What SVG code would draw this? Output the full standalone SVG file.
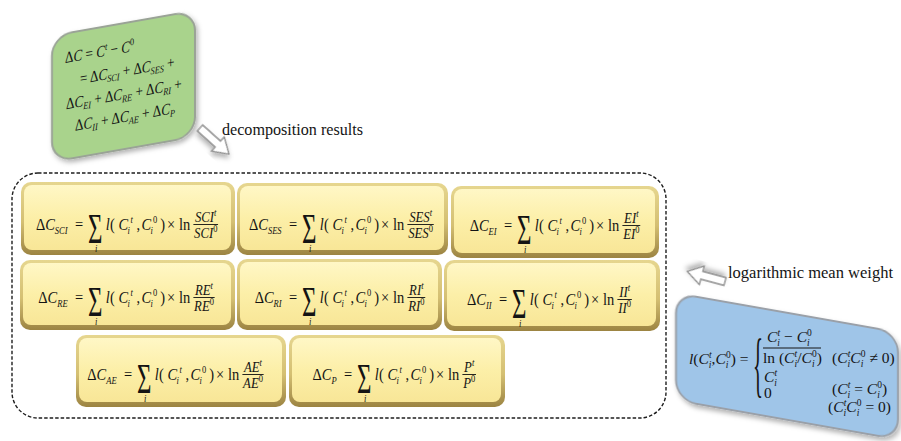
<svg xmlns="http://www.w3.org/2000/svg" xmlns:xlink="http://www.w3.org/1999/xlink" width="901" height="441" viewBox="0 0 901 441">
  <style>
    text { font-family: "Liberation Serif", "DejaVu Serif", serif; fill: #141414; }
    .m { font-size: 17px; }
    .big { font-size: 43px; }
    .fn { font-size: 15px; }
    .i { font-style: italic; }
    .sb { font-size: 10px; }
    .sp { font-size: 10px; }
    .g { font-size: 16px; }
    .gs { font-size: 10px; }
    .b { font-size: 15.5px; }
    .bs { font-size: 9.5px; }
    .brace { font-size: 72px; }
    .lbl { font-size: 17px; }
    .fr { stroke: #141414; stroke-width: 1; }
    .rim { fill: url(#rim); }
    .face { fill: url(#face); }
    .blk { fill: #ffffff; stroke: #8a8a8a; stroke-width: 1.3; stroke-linejoin: miter; }
  </style>
  <defs>
    <linearGradient id="rim" x1="0" y1="0" x2="0" y2="1">
      <stop offset="0" stop-color="#e6d68f"/>
      <stop offset="0.55" stop-color="#d4bf72"/>
      <stop offset="1" stop-color="#9c8442"/>
    </linearGradient>
    <linearGradient id="face" x1="0" y1="0" x2="0" y2="1">
      <stop offset="0" stop-color="#fff7c6"/>
      <stop offset="0.5" stop-color="#fcefa8"/>
      <stop offset="1" stop-color="#f8e697"/>
    </linearGradient>
    <filter id="sh" x="-15%" y="-15%" width="135%" height="135%">
      <feGaussianBlur in="SourceAlpha" stdDeviation="2.5"/>
      <feOffset dx="2" dy="3" result="o"/>
      <feFlood flood-color="#000" flood-opacity="0.3"/>
      <feComposite in2="o" operator="in"/>
      <feMerge><feMergeNode/><feMergeNode in="SourceGraphic"/></feMerge>
    </filter>
    <!-- hollow block arrow pointing along +x -->
    <path id="blkarrow" d="M0,-4 H24 V-9.5 L39,0 L24,9.5 V4 H0 Z"/>
    <!-- shared part of every decomposition term: = Σ_i l(C_i^t, C_i^0) × ln -->
    <g id="sum">
      <text class="m" x="-15.3">=</text>
      <text class="big" x="0" y="13" textLength="17" lengthAdjust="spacingAndGlyphs">Σ</text>
      <text class="i sb" x="8.2" y="22">i</text>
      <text class="m"><tspan class="i" x="21">l</tspan><tspan x="26">(</tspan><tspan class="i" x="36">C</tspan><tspan class="i sb" x="46.5" dy="4">i</tspan><tspan class="i sp" x="50" dy="-11">t</tspan><tspan x="57" dy="7">,</tspan><tspan class="i" x="63">C</tspan><tspan class="i sb" x="73.5" dy="4">i</tspan><tspan class="sp" x="76.5" dy="-11">0</tspan><tspan x="85" dy="7">)</tspan><tspan x="93">×</tspan><tspan x="107">ln</tspan></text>
    </g>
  </defs>

  <rect width="901" height="441" fill="#ffffff"/>

  <!-- total change and its components -->
  <g id="total" transform="skewY(-10)">
    <rect x="52" y="45" width="143" height="126" rx="20" fill="#a9d38c" stroke="#9aa396" stroke-width="2" filter="url(#sh)"/>
    <text class="g" transform="translate(65,74.5) scale(0.82,1)">Δ<tspan class="i">C</tspan> = <tspan class="i">C</tspan><tspan class="gs i" dy="-6">t</tspan><tspan dy="6"> − </tspan><tspan class="i">C</tspan><tspan class="gs" dy="-6">0</tspan></text>
    <text class="g" transform="translate(80,98) scale(0.82,1)">= Δ<tspan class="i">C</tspan><tspan class="gs i" dy="3">SCI</tspan><tspan dy="-3"> + Δ</tspan><tspan class="i">C</tspan><tspan class="gs i" dy="3">SES</tspan><tspan dy="-3"> +</tspan></text>
    <text class="g" transform="translate(66,121) scale(0.82,1)">Δ<tspan class="i">C</tspan><tspan class="gs i" dy="3">EI</tspan><tspan dy="-3"> + Δ</tspan><tspan class="i">C</tspan><tspan class="gs i" dy="3">RE</tspan><tspan dy="-3"> + Δ</tspan><tspan class="i">C</tspan><tspan class="gs i" dy="3">RI</tspan><tspan dy="-3"> +</tspan></text>
    <text class="g" transform="translate(75,144) scale(0.82,1)">Δ<tspan class="i">C</tspan><tspan class="gs i" dy="3">II</tspan><tspan dy="-3"> + Δ</tspan><tspan class="i">C</tspan><tspan class="gs i" dy="3">AE</tspan><tspan dy="-3"> + Δ</tspan><tspan class="i">C</tspan><tspan class="gs i" dy="3">P</tspan></text>
  </g>

  <!-- logarithmic mean weight -->
  <g id="weight">
    <rect transform="skewY(10)" x="676" y="174" width="222" height="107" rx="20" fill="#9fc5e8" stroke="#9aa0a8" stroke-width="2" filter="url(#sh)"/>
    <text class="b" x="689" y="364"><tspan class="i">l</tspan>(<tspan class="i">C</tspan><tspan class="bs i" dy="4">i</tspan><tspan class="bs i" dx="-2.5" dy="-10">t</tspan><tspan dy="6">,</tspan><tspan class="i">C</tspan><tspan class="bs i" dy="4">i</tspan><tspan class="bs" dx="-2.5" dy="-10">0</tspan><tspan dy="6">) =</tspan></text>
    <text class="brace" x="753" y="388" textLength="10" lengthAdjust="spacingAndGlyphs">{</text>
    <text class="b" x="767" y="342"><tspan class="i">C</tspan><tspan class="bs i" dy="4">i</tspan><tspan class="bs i" dx="-2.5" dy="-10">t</tspan><tspan dy="6"> − </tspan><tspan class="i">C</tspan><tspan class="bs i" dy="4">i</tspan><tspan class="bs" dx="-2.5" dy="-10">0</tspan></text>
    <line class="fr" x1="763" y1="348" x2="821" y2="348"/>
    <text class="b" x="763" y="363">ln (<tspan class="i">C</tspan><tspan class="bs i" dy="4">i</tspan><tspan class="bs i" dx="-2.5" dy="-10">t</tspan><tspan dy="6">/</tspan><tspan class="i">C</tspan><tspan class="bs i" dy="4">i</tspan><tspan class="bs" dx="-2.5" dy="-10">0</tspan><tspan dy="6">)</tspan></text>
    <text class="b" x="832" y="363">(<tspan class="i">C</tspan><tspan class="bs i" dy="4">i</tspan><tspan class="bs i" dx="-2.5" dy="-10">t</tspan><tspan class="i" dy="6">C</tspan><tspan class="bs i" dy="4">i</tspan><tspan class="bs" dx="-2.5" dy="-10">0</tspan><tspan dy="6"> ≠ 0)</tspan></text>
    <text class="b" x="764" y="382"><tspan class="i">C</tspan><tspan class="bs i" dy="4">i</tspan><tspan class="bs i" dx="-2.5" dy="-10">t</tspan></text>
    <text class="b" x="764" y="398">0</text>
    <text class="b" x="832" y="394">(<tspan class="i">C</tspan><tspan class="bs i" dy="4">i</tspan><tspan class="bs i" dx="-2.5" dy="-10">t</tspan><tspan dy="6"> = </tspan><tspan class="i">C</tspan><tspan class="bs i" dy="4">i</tspan><tspan class="bs" dx="-2.5" dy="-10">0</tspan><tspan dy="6">)</tspan></text>
    <text class="b" x="828" y="412">(<tspan class="i">C</tspan><tspan class="bs i" dy="4">i</tspan><tspan class="bs i" dx="-2.5" dy="-10">t</tspan><tspan class="i" dy="6">C</tspan><tspan class="bs i" dy="4">i</tspan><tspan class="bs" dx="-2.5" dy="-10">0</tspan><tspan dy="6"> = 0)</tspan></text>
  </g>

  <!-- frame around the decomposition terms -->
  <g id="results">
    <rect x="12" y="173" width="654" height="245" rx="26" fill="none" stroke="#1e1e1e" stroke-width="1.4" stroke-dasharray="3.5 2"/>
  </g>

  <g id="term-sci">
    <rect class="rim" x="21" y="182" width="214" height="73" rx="10"/>
    <rect class="face" x="24" y="185" width="207" height="65" rx="8"/>
    <g transform="translate(88,230) scale(0.85,1)">
      <text class="m" x="-24" text-anchor="end">Δ<tspan class="i">C</tspan><tspan class="i sb" dy="4">SCI</tspan></text>
      <use href="#sum"/>
      <line class="fr" x1="124" y1="-5.5" x2="153" y2="-5.5"/>
      <text class="fn" x="138.5" y="-8" text-anchor="middle"><tspan class="i">SCI</tspan><tspan class="i sp" dy="-6">t</tspan></text>
      <text class="fn" x="138.5" y="8" text-anchor="middle"><tspan class="i">SCI</tspan><tspan class="sp" dy="-6">0</tspan></text>
    </g>
  </g>

  <g id="term-ses">
    <rect class="rim" x="237" y="183" width="211" height="72" rx="10"/>
    <rect class="face" x="240" y="186" width="204" height="64" rx="8"/>
    <g transform="translate(302,230) scale(0.85,1)">
      <text class="m" x="-24" text-anchor="end">Δ<tspan class="i">C</tspan><tspan class="i sb" dy="4">SES</tspan></text>
      <use href="#sum"/>
      <line class="fr" x1="124" y1="-5.5" x2="155" y2="-5.5"/>
      <text class="fn" x="139.5" y="-8" text-anchor="middle"><tspan class="i">SES</tspan><tspan class="i sp" dy="-6">t</tspan></text>
      <text class="fn" x="139.5" y="8" text-anchor="middle"><tspan class="i">SES</tspan><tspan class="sp" dy="-6">0</tspan></text>
    </g>
  </g>

  <g id="term-ei">
    <rect class="rim" x="451" y="186" width="208" height="72" rx="10"/>
    <rect class="face" x="454" y="189" width="201" height="64" rx="8"/>
    <g transform="translate(517,231) scale(0.85,1)">
      <text class="m" x="-24" text-anchor="end">Δ<tspan class="i">C</tspan><tspan class="i sb" dy="4">EI</tspan></text>
      <use href="#sum"/>
      <line class="fr" x1="124" y1="-5.5" x2="145" y2="-5.5"/>
      <text class="fn" x="134.5" y="-8" text-anchor="middle"><tspan class="i">EI</tspan><tspan class="i sp" dy="-6">t</tspan></text>
      <text class="fn" x="134.5" y="8" text-anchor="middle"><tspan class="i">EI</tspan><tspan class="sp" dy="-6">0</tspan></text>
    </g>
  </g>

  <g id="term-re">
    <rect class="rim" x="20" y="260" width="215" height="70" rx="10"/>
    <rect class="face" x="23" y="263" width="208" height="62" rx="8"/>
    <g transform="translate(88,303) scale(0.85,1)">
      <text class="m" x="-24" text-anchor="end">Δ<tspan class="i">C</tspan><tspan class="i sb" dy="4">RE</tspan></text>
      <use href="#sum"/>
      <line class="fr" x1="124" y1="-5.5" x2="149" y2="-5.5"/>
      <text class="fn" x="136.5" y="-8" text-anchor="middle"><tspan class="i">RE</tspan><tspan class="i sp" dy="-6">t</tspan></text>
      <text class="fn" x="136.5" y="8" text-anchor="middle"><tspan class="i">RE</tspan><tspan class="sp" dy="-6">0</tspan></text>
    </g>
  </g>

  <g id="term-ri">
    <rect class="rim" x="237" y="259" width="205" height="71" rx="10"/>
    <rect class="face" x="240" y="262" width="198" height="63" rx="8"/>
    <g transform="translate(302,303) scale(0.85,1)">
      <text class="m" x="-24" text-anchor="end">Δ<tspan class="i">C</tspan><tspan class="i sb" dy="4">RI</tspan></text>
      <use href="#sum"/>
      <line class="fr" x1="124" y1="-5.5" x2="145" y2="-5.5"/>
      <text class="fn" x="134.5" y="-8" text-anchor="middle"><tspan class="i">RI</tspan><tspan class="i sp" dy="-6">t</tspan></text>
      <text class="fn" x="134.5" y="8" text-anchor="middle"><tspan class="i">RI</tspan><tspan class="sp" dy="-6">0</tspan></text>
    </g>
  </g>

  <g id="term-ii">
    <rect class="rim" x="444" y="260" width="216" height="71" rx="10"/>
    <rect class="face" x="447" y="263" width="209" height="63" rx="8"/>
    <g transform="translate(512,305) scale(0.85,1)">
      <text class="m" x="-24" text-anchor="end">Δ<tspan class="i">C</tspan><tspan class="i sb" dy="4">II</tspan></text>
      <use href="#sum"/>
      <line class="fr" x1="124" y1="-5.5" x2="141" y2="-5.5"/>
      <text class="fn" x="132.5" y="-8" text-anchor="middle"><tspan class="i">II</tspan><tspan class="i sp" dy="-6">t</tspan></text>
      <text class="fn" x="132.5" y="8" text-anchor="middle"><tspan class="i">II</tspan><tspan class="sp" dy="-6">0</tspan></text>
    </g>
  </g>

  <g id="term-ae">
    <rect class="rim" x="76" y="335" width="210" height="72" rx="10"/>
    <rect class="face" x="79" y="338" width="203" height="64" rx="8"/>
    <g transform="translate(137,380) scale(0.85,1)">
      <text class="m" x="-24" text-anchor="end">Δ<tspan class="i">C</tspan><tspan class="i sb" dy="4">AE</tspan></text>
      <use href="#sum"/>
      <line class="fr" x1="124" y1="-5.5" x2="149" y2="-5.5"/>
      <text class="fn" x="136.5" y="-8" text-anchor="middle"><tspan class="i">AE</tspan><tspan class="i sp" dy="-6">t</tspan></text>
      <text class="fn" x="136.5" y="8" text-anchor="middle"><tspan class="i">AE</tspan><tspan class="sp" dy="-6">0</tspan></text>
    </g>
  </g>

  <g id="term-p">
    <rect class="rim" x="289" y="335" width="216" height="72" rx="10"/>
    <rect class="face" x="292" y="338" width="209" height="64" rx="8"/>
    <g transform="translate(357,380) scale(0.85,1)">
      <text class="m" x="-24" text-anchor="end">Δ<tspan class="i">C</tspan><tspan class="i sb" dy="4">P</tspan></text>
      <use href="#sum"/>
      <line class="fr" x1="124" y1="-5.5" x2="140" y2="-5.5"/>
      <text class="fn" x="132" y="-8" text-anchor="middle"><tspan class="i">P</tspan><tspan class="i sp" dy="-6">t</tspan></text>
      <text class="fn" x="132" y="8" text-anchor="middle"><tspan class="i">P</tspan><tspan class="sp" dy="-6">0</tspan></text>
    </g>
  </g>

  <!-- connectors -->
  <g id="connectors">
    <use href="#blkarrow" class="blk" transform="translate(200,128) rotate(42)" filter="url(#sh)"/>
    <text class="lbl" x="222" y="135" textLength="141" lengthAdjust="spacingAndGlyphs">decomposition results</text>
    <use href="#blkarrow" class="blk" transform="translate(725,281.5) rotate(195)" filter="url(#sh)"/>
    <text class="lbl" x="728" y="278" textLength="165" lengthAdjust="spacingAndGlyphs">logarithmic mean weight</text>
  </g>
</svg>
